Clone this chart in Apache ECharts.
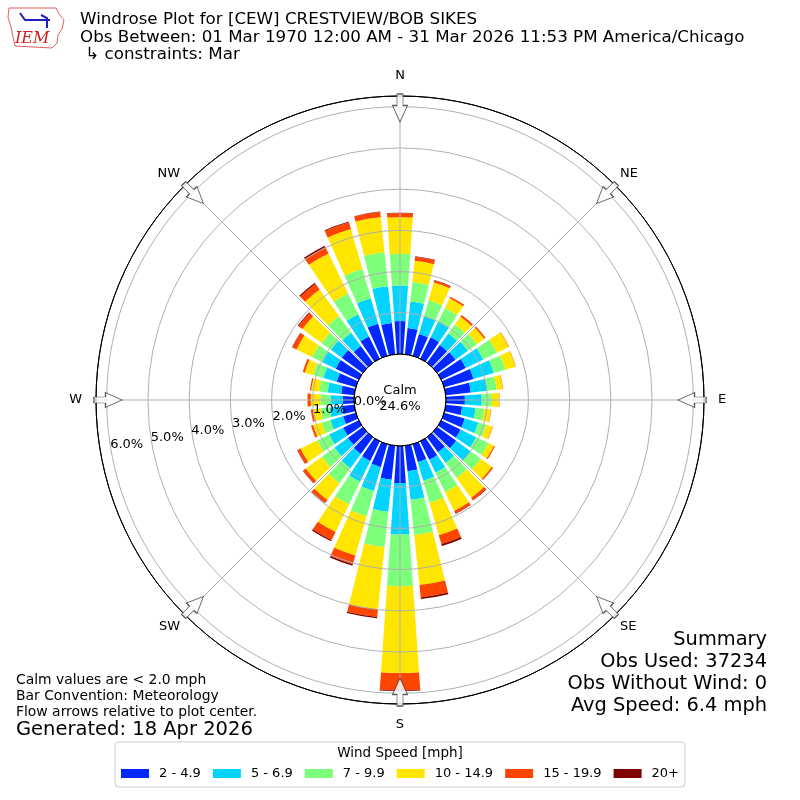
<!DOCTYPE html>
<html lang="en">
<head>
    <meta charset="UTF-8"/>
    <title>Windrose Plot for [CEW] CRESTVIEW/BOB SIKES</title>
    <style>
        html, body {
            margin: 0;
            padding: 0;
            width: 800px;
            height: 800px;
            background: #ffffff;
            overflow: hidden;
        }

        #chart {
            width: 800px;
            height: 800px;
        }
    </style>
</head>
<body>
<div id="chart"></div>
<script src="https://cdn.jsdelivr.net/npm/echarts@6/dist/echarts.min.js"></script>
<script>
    // Direction bins (degrees, meteorological convention), 10 degree sectors
    const directions = [0, 10, 20, 30, 40, 50, 60, 70, 80, 90, 100, 110, 120, 130, 140, 150, 160, 170,
        180, 190, 200, 210, 220, 230, 240, 250, 260, 270, 280, 290, 300, 310, 320, 330, 340, 350];

    // Frequency (%) per direction for each speed bin
    const speed2to5 = [0.80, 0.64, 0.55, 0.58, 0.53, 0.55, 0.66, 0.74, 0.61, 0.46, 0.40, 0.52, 0.52, 0.57, 0.45, 0.50, 0.45, 0.62,
        0.90, 0.83, 0.58, 0.53, 0.50, 0.45, 0.42, 0.32, 0.30, 0.27, 0.32, 0.48, 0.62, 0.63, 0.50, 0.60, 0.81, 0.76];
    const speed5to7 = [0.86, 0.65, 0.45, 0.42, 0.35, 0.37, 0.47, 0.51, 0.41, 0.41, 0.33, 0.34, 0.42, 0.43, 0.32, 0.35, 0.47, 0.70,
        1.25, 0.78, 0.60, 0.56, 0.43, 0.40, 0.38, 0.32, 0.30, 0.29, 0.33, 0.34, 0.36, 0.33, 0.40, 0.60, 0.64, 0.90];
    const speed7to10 = [0.77, 0.47, 0.40, 0.37, 0.27, 0.27, 0.37, 0.29, 0.22, 0.24, 0.21, 0.20, 0.33, 0.31, 0.45, 0.52, 0.56, 0.86,
        1.25, 0.86, 0.64, 0.61, 0.45, 0.38, 0.32, 0.22, 0.22, 0.25, 0.20, 0.26, 0.28, 0.28, 0.50, 0.56, 0.74, 0.83];
    const speed10to15 = [0.89, 0.52, 0.45, 0.26, 0.23, 0.22, 0.32, 0.26, 0.15, 0.18, 0.16, 0.16, 0.15, 0.33, 0.60, 0.51, 0.82, 1.22,
        2.11, 1.52, 0.99, 0.75, 0.50, 0.48, 0.45, 0.22, 0.19, 0.24, 0.20, 0.21, 0.42, 0.57, 0.80, 1.08, 1.01, 0.86];
    const speed15to20 = [0.10, 0.10, 0.05, 0.04, 0.05, 0.04, 0.01, 0.01, 0.01, 0.01, 0.01, 0.01, 0.03, 0.04, 0.07, 0.07, 0.22, 0.30,
        0.42, 0.19, 0.22, 0.22, 0.09, 0.08, 0.08, 0.05, 0.05, 0.08, 0.03, 0.05, 0.11, 0.12, 0.17, 0.17, 0.17, 0.12];
    const speed20plus = [0.01, 0.01, 0.01, 0, 0, 0, 0, 0, 0, 0, 0, 0, 0, 0, 0.01, 0.01, 0.05, 0.04,
        0.02, 0.03, 0.04, 0.03, 0.01, 0.01, 0.01, 0, 0, 0, 0, 0, 0.01, 0.02, 0.03, 0.04, 0.02, 0.01];

    const speedBins = ['2 - 4.9', '5 - 6.9', '7 - 9.9', '10 - 14.9', '15 - 19.9', '20+'];
    const binColors = ['#0028ff', '#00d4ff', '#7cff7a', '#ffe600', '#ff4600', '#800000'];

    // Compass points and their flow arrows
    const compassBearings = [0, 45, 90, 135, 180, 225, 270, 315];
    const compassLabels = ['N', 'NE', 'E', 'SE', 'S', 'SW', 'W', 'NW'];
    const arrowRadius = 5.97;

    const radiusMax = 6.26;

    const chart = echarts.init(document.getElementById('chart'));
    const font = 'DejaVu Sans, sans-serif';

    const polarBox = {center: [400, 400], radius: [46, 304]};

    function barSeries(name, values, color) {
        return {
            name: name,
            type: 'bar',
            coordinateSystem: 'polar',
            polarIndex: 0,
            stack: 'wind',
            barCategoryGap: '20%',
            itemStyle: {color: color},
            data: values,
            z: 2
        };
    }

    const speedData = [speed2to5, speed5to7, speed7to10, speed10to15, speed15to20, speed20plus];
    const series = speedBins.map((name, i) => barSeries(name, speedData[i], binColors[i]));

    // Flow arrows around the rim, pointing toward the center
    series.push({
        type: 'scatter',
        coordinateSystem: 'polar',
        polarIndex: 1,
        symbol: 'path://M7.5,0 L15,16.5 L10.5,16.5 L10.5,28 L4.5,28 L4.5,16.5 L0,16.5 Z',
        symbolSize: [15, 28],
        itemStyle: {color: '#ffffff', borderColor: '#333333', borderWidth: 1},
        data: compassBearings.map(b => ({value: [arrowRadius, b], symbolRotate: 180 - b})),
        silent: true,
        z: 20
    });

    const gridGray = '#b0b0b0';

    function text(x, y, str, size, align) {
        return {
            type: 'text', x: x, y: y, z: 30,
            style: {
                text: str, fill: '#000000', font: size + 'px ' + font,
                textAlign: align || 'left', textVerticalAlign: 'middle'
            }
        };
    }

    const option = {
        animation: false,
        backgroundColor: '#ffffff',
        textStyle: {fontFamily: font},
        polar: [polarBox, polarBox, polarBox],
        angleAxis: [
            {
                polarIndex: 0,
                type: 'category',
                data: directions,
                startAngle: 95,
                clockwise: true,
                show: false
            },
            {
                polarIndex: 1,
                type: 'value',
                min: 0,
                max: 360,
                interval: 45,
                startAngle: 90,
                clockwise: true,
                z: 10,
                axisLine: {show: true, lineStyle: {color: '#000000', width: 1}},
                axisTick: {show: false},
                axisLabel: {
                    margin: 7,
                    fontSize: 13,
                    color: '#000000',
                    fontFamily: font,
                    // cardinal points sit a little further out than the diagonals
                    formatter: v => {
                        const label = compassLabels[compassBearings.indexOf(v)] || '';
                        return label.length === 1 ? '{c|' + label + '}' : label;
                    },
                    rich: {
                        c: {fontSize: 13, fontFamily: font, color: '#000000', padding: [7, 7, 7, 7]}
                    }
                },
                splitLine: {show: true, lineStyle: {color: gridGray, width: 1}}
            },
            {
                polarIndex: 2,
                type: 'value',
                min: 0,
                max: 360,
                startAngle: 190,
                show: false
            }
        ],
        radiusAxis: [
            {
                polarIndex: 0,
                type: 'value',
                min: 0,
                max: radiusMax,
                interval: 1,
                z: 10,
                axisLine: {show: false},
                axisTick: {show: false},
                axisLabel: {show: false},
                splitLine: {
                    show: true,
                    lineStyle: {
                        color: ['#000000', gridGray, gridGray, gridGray, gridGray, gridGray, gridGray, '#000000'],
                        width: 1
                    }
                }
            },
            {
                polarIndex: 1,
                type: 'value',
                min: 0,
                max: radiusMax,
                show: false
            },
            {
                polarIndex: 2,
                type: 'value',
                min: 0,
                max: radiusMax,
                interval: 1,
                z: 12,
                axisLine: {show: false},
                axisTick: {show: false},
                splitLine: {show: false},
                axisLabel: {
                    show: true,
                    margin: -6,
                    align: 'left',
                    fontSize: 13,
                    color: '#000000',
                    fontFamily: font,
                    formatter: v => Number.isInteger(v) ? v.toFixed(1) + '%' : ''
                }
            }
        ],
        legend: {
            data: speedBins,
            left: 'center',
            top: 742,
            padding: [25, 6, 7, 6],
            itemWidth: 28,
            itemHeight: 9,
            itemGap: 12,
            icon: 'rect',
            borderColor: '#cccccc',
            borderWidth: 1,
            borderRadius: 4,
            backgroundColor: '#ffffff',
            textStyle: {fontSize: 13, color: '#000000', fontFamily: font, padding: [0, 0, 0, 5]}
        },
        graphic: [
            // IEM logo
            {
                type: 'polyline',
                shape: {
                    points: [[9, 8], [56, 8], [59, 14], [64, 20], [62, 29], [58, 35], [57, 43], [52, 48],
                        [15, 46], [13, 37], [11, 27], [8, 17], [9, 8]]
                },
                style: {stroke: '#e06060', lineWidth: 1, fill: null}
            },
            {
                type: 'polyline',
                shape: {points: [[20, 13], [25, 20], [50, 20]]},
                style: {stroke: '#2020c0', lineWidth: 2, fill: null}
            },
            {
                type: 'polyline',
                shape: {points: [[41, 15], [47, 18], [47, 28]]},
                style: {stroke: '#2020c0', lineWidth: 2, fill: null}
            },
            {
                type: 'text',
                x: 15, y: 39,
                style: {
                    text: 'IEM', fill: '#d02020', font: 'italic 16px "DejaVu Serif", serif',
                    textVerticalAlign: 'middle'
                }
            },
            // Titles
            text(80, 20, 'Windrose Plot for [CEW] CRESTVIEW/BOB SIKES', 16.7),
            text(80, 38, 'Obs Between: 01 Mar 1970 12:00 AM - 31 Mar 2026 11:53 PM America/Chicago', 16.7),
            text(80, 55, ' \u21b3 constraints: Mar', 16.7),
            // Calm in the middle
            text(400, 391, 'Calm', 13, 'center'),
            text(400, 407, '24.6%', 13, 'center'),
            // Notes, bottom left
            text(16, 680, 'Calm values are < 2.0 mph', 13.9),
            text(16, 696, 'Bar Convention: Meteorology', 13.9),
            text(16, 712, 'Flow arrows relative to plot center.', 13.9),
            text(16, 730, 'Generated: 18 Apr 2026', 19.5),
            // Summary, bottom right
            text(767, 640, 'Summary', 19.4, 'right'),
            text(767, 662, 'Obs Used: 37234', 19.4, 'right'),
            text(767, 684, 'Obs Without Wind: 0', 19.4, 'right'),
            text(767, 706, 'Avg Speed: 6.4 mph', 19.4, 'right'),
            // Legend title
            text(400, 753, 'Wind Speed [mph]', 13.5, 'center')
        ],
        series: series
    };

    chart.setOption(option);

    window.addEventListener('resize', () => {
        chart.resize();
    });
</script>
</body>
</html>
